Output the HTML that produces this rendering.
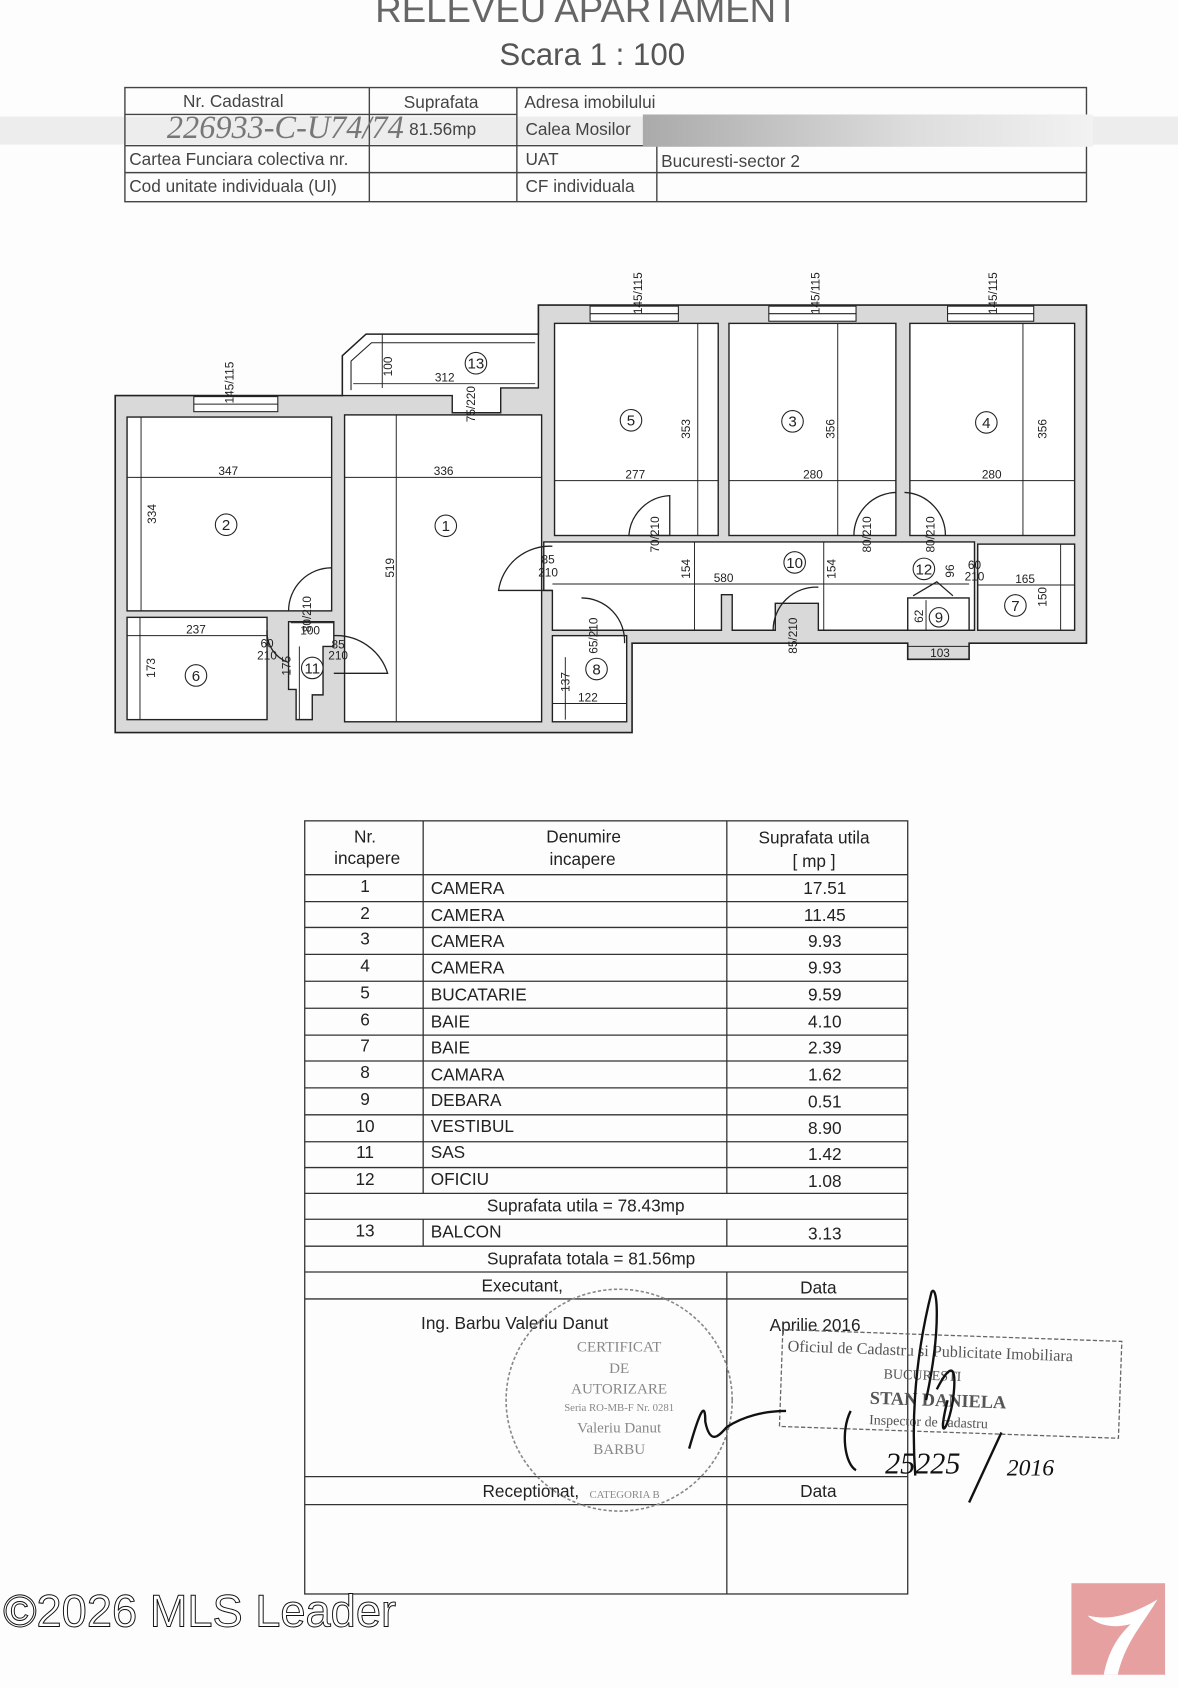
<!DOCTYPE html>
<html><head><meta charset="utf-8"><style>
html,body{margin:0;padding:0;background:#fff}
svg{display:block}
text{font-family:"Liberation Sans",sans-serif}
.s{font-family:"Liberation Serif",serif}
</style></head><body>
<svg width="1178" height="1688" viewBox="0 0 1094 1567" xmlns="http://www.w3.org/2000/svg" fill="#222">
<rect width="1094" height="1567" fill="#fdfdfd"/>
<!-- title -->
<text x="545" y="20" font-size="34" text-anchor="middle" fill="#666">RELEVEU APARTAMENT</text>
<text x="550" y="60" font-size="29" text-anchor="middle" fill="#555">Scara 1 : 100</text>
<!-- header table -->
<rect x="0" y="108" width="1094" height="26" fill="#e6e6e6" opacity="0.7"/>
<g stroke="#444" stroke-width="1.3" fill="none">
<rect x="116" y="81" width="893" height="106"/>
<line x1="116" y1="106" x2="480" y2="106"/><line x1="116" y1="135" x2="1009" y2="135"/><line x1="116" y1="160" x2="1009" y2="160"/>
<line x1="343" y1="81" x2="343" y2="187"/><line x1="480" y1="81" x2="480" y2="187"/><line x1="610" y1="135" x2="610" y2="187"/>
</g>
<defs><linearGradient id="g1" x1="0" x2="1"><stop offset="0" stop-color="#aaa"/><stop offset="0.6" stop-color="#ddd"/><stop offset="1" stop-color="#f2f2f2"/></linearGradient></defs>
<rect x="597" y="106" width="418" height="30" fill="url(#g1)"/>
<g font-size="16" fill="#444">
<text x="170" y="99">Nr. Cadastral</text><text x="375" y="100">Suprafata</text><text x="487" y="100">Adresa imobilului</text>
<text x="380" y="125">81.56mp</text><text x="488" y="125">Calea Mosilor</text>
<text x="120" y="153">Cartea Funciara colectiva nr.</text><text x="488" y="153">UAT</text><text x="614" y="155">Bucuresti-sector 2</text>
<text x="120" y="178">Cod unitate individuala (UI)</text><text x="488" y="178">CF individuala</text>
</g>
<text x="155" y="128" font-size="30" fill="#777" font-style="italic" class="s">226933-C-U74/74</text>

<!-- floor plan -->
<g>
<path d="M107,367 H318 V330 L340,310 H500 V283 H1009 V597 H900 V612 H843 V597 H587 V680 H107 Z" fill="#d9d9d9" stroke="#222" stroke-width="1.5"/>
<path d="M318,367 V330 L340,310 H500 V360 H465 V383 H420 V367 Z" fill="#fff" stroke="#222" stroke-width="1.3"/>
<path d="M326,362 V335 L345,318 H497" fill="none" stroke="#222"/>
<g fill="#fff" stroke="#222" stroke-width="1.3">
<rect x="118" y="387" width="190" height="180"/>
<rect x="118" y="573" width="130" height="95"/>
<path d="M268,577 H310 V600 H300 V645 H290 V668 H275 V640 H268 Z"/>
<rect x="320" y="385" width="183" height="285"/>
<rect x="515" y="300" width="152" height="197"/>
<rect x="677" y="300" width="155" height="197"/>
<rect x="845" y="300" width="153" height="197"/>
<path d="M505,503 H905 V585 H760 V560 H720 V585 H680 V552 H670 V585 H513 V548 H505 Z"/>
<rect x="908" y="505" width="90" height="80"/>
<rect x="843" y="555" width="57" height="30"/>
<rect x="513" y="590" width="69" height="80"/>
</g>
<g fill="#fff" stroke="#222" stroke-width="1">
<rect x="180" y="368" width="78" height="14"/><line x1="180" y1="375" x2="258" y2="375"/>
<rect x="548" y="284" width="82" height="14"/><line x1="548" y1="291" x2="630" y2="291"/>
<rect x="714" y="284" width="81" height="14"/><line x1="714" y1="291" x2="795" y2="291"/>
<rect x="880" y="284" width="80" height="14"/><line x1="880" y1="291" x2="960" y2="291"/>
</g>
<g fill="none" stroke="#222" stroke-width="1.2">
<path d="M513,507 A48,48 0 0 0 463,548 H513"/>
<path d="M622,460 A40,40 0 0 0 584,497 H622 Z"/>
<path d="M832,457 A40,40 0 0 0 793,497"/><path d="M840,457 A40,40 0 0 1 878,497"/>
<path d="M308,527 A40,40 0 0 0 268,567"/>
<path d="M310,590 A50,50 0 0 1 360,625 H310"/>
<path d="M248,585 A30,30 0 0 0 268,615"/>
<path d="M540,555 A40,40 0 0 1 580,597"/>
<path d="M760,545 A40,40 0 0 0 718,585"/>
<path d="M848,553 L870,540 L885,553"/>
</g>
<g stroke="#222" stroke-width="0.9">
<line x1="118" y1="443" x2="308" y2="443"/><line x1="320" y1="443" x2="503" y2="443"/>
<line x1="515" y1="446" x2="667" y2="446"/><line x1="677" y1="446" x2="832" y2="446"/><line x1="845" y1="446" x2="998" y2="446"/>
<line x1="131" y1="387" x2="131" y2="567"/><line x1="368" y1="385" x2="368" y2="670"/>
<line x1="648" y1="300" x2="648" y2="497"/><line x1="778" y1="300" x2="778" y2="497"/><line x1="950" y1="300" x2="950" y2="497"/>
<line x1="355" y1="310" x2="355" y2="360"/><line x1="328" y1="356" x2="497" y2="356"/>
<line x1="513" y1="542" x2="900" y2="542"/><line x1="645" y1="503" x2="645" y2="585"/><line x1="765" y1="503" x2="765" y2="585"/>
<line x1="118" y1="590" x2="248" y2="590"/><line x1="130" y1="573" x2="130" y2="668"/>
<line x1="270" y1="578" x2="310" y2="578"/><line x1="278" y1="600" x2="278" y2="668"/>
<line x1="908" y1="543" x2="998" y2="543"/><line x1="985" y1="505" x2="985" y2="585"/>
<line x1="525" y1="610" x2="525" y2="668"/><line x1="513" y1="653" x2="582" y2="653"/>
<line x1="843" y1="600" x2="900" y2="600"/><line x1="860" y1="557" x2="860" y2="585"/>
</g>
<g font-size="11">
<text x="212" y="441" text-anchor="middle">347</text><text x="412" y="441" text-anchor="middle">336</text>
<text x="590" y="444" text-anchor="middle">277</text><text x="755" y="444" text-anchor="middle">280</text><text x="921" y="444" text-anchor="middle">280</text>
<text x="413" y="354" text-anchor="middle">312</text><text x="672" y="540" text-anchor="middle">580</text>
<text x="182" y="588" text-anchor="middle">237</text><text x="288" y="589" text-anchor="middle">100</text>
<text x="952" y="541" text-anchor="middle">165</text><text x="546" y="651" text-anchor="middle">122</text><text x="873" y="610" text-anchor="middle">103</text>
<text transform="translate(145,477) rotate(-90)" text-anchor="middle">334</text>
<text transform="translate(366,527) rotate(-90)" text-anchor="middle">519</text>
<text transform="translate(641,398) rotate(-90)" text-anchor="middle">353</text>
<text transform="translate(775,398) rotate(-90)" text-anchor="middle">356</text>
<text transform="translate(972,398) rotate(-90)" text-anchor="middle">356</text>
<text transform="translate(364,340) rotate(-90)" text-anchor="middle">100</text>
<text transform="translate(641,528) rotate(-90)" text-anchor="middle">154</text>
<text transform="translate(776,528) rotate(-90)" text-anchor="middle">154</text>
<text transform="translate(144,620) rotate(-90)" text-anchor="middle">173</text>
<text transform="translate(270,618) rotate(-90)" text-anchor="middle">175</text>
<text transform="translate(972,554) rotate(-90)" text-anchor="middle">150</text>
<text transform="translate(529,633) rotate(-90)" text-anchor="middle">137</text>
<text transform="translate(857,572) rotate(-90)" text-anchor="middle">62</text>
<text transform="translate(886,530) rotate(-90)" text-anchor="middle">96</text>
<text transform="translate(217,355) rotate(-90)" text-anchor="middle">145/115</text>
<text transform="translate(596,272) rotate(-90)" text-anchor="middle">145/115</text>
<text transform="translate(761,272) rotate(-90)" text-anchor="middle">145/115</text>
<text transform="translate(926,272) rotate(-90)" text-anchor="middle">145/115</text>
<text transform="translate(441,375) rotate(-90)" text-anchor="middle">75/220</text>
<text transform="translate(612,496) rotate(-90)" text-anchor="middle">70/210</text>
<text transform="translate(809,496) rotate(-90)" text-anchor="middle">80/210</text>
<text transform="translate(868,496) rotate(-90)" text-anchor="middle">80/210</text>
<text transform="translate(289,570) rotate(-90)" text-anchor="middle">80/210</text>
<text transform="translate(555,590) rotate(-90)" text-anchor="middle">65/210</text>
<text transform="translate(740,590) rotate(-90)" text-anchor="middle">85/210</text>
<text x="509" y="523" text-anchor="middle">85</text><text x="509" y="535" text-anchor="middle">210</text>
<text x="905" y="528" text-anchor="middle">60</text><text x="905" y="539" text-anchor="middle">210</text>
<text x="248" y="601" text-anchor="middle">60</text><text x="248" y="612" text-anchor="middle">210</text>
<text x="314" y="602" text-anchor="middle">85</text><text x="314" y="612" text-anchor="middle">210</text>
</g>
<g fill="#fff" stroke="#222" stroke-width="1">
<circle cx="210" cy="487" r="10"/><circle cx="414" cy="488" r="10"/><circle cx="586" cy="390" r="10"/><circle cx="736" cy="391" r="10"/><circle cx="916" cy="392" r="10"/>
<circle cx="738" cy="522" r="10"/><circle cx="858" cy="528" r="10"/><circle cx="943" cy="562" r="10"/><circle cx="872" cy="573" r="9"/>
<circle cx="182" cy="627" r="10"/><circle cx="290" cy="620" r="10"/><circle cx="554" cy="621" r="10"/><circle cx="442" cy="337" r="10"/>
</g>
<g font-size="14" text-anchor="middle">
<text x="210" y="492">2</text><text x="414" y="493">1</text><text x="586" y="395">5</text><text x="736" y="396">3</text><text x="916" y="397">4</text>
<text x="738" y="527">10</text><text x="858" y="533">12</text><text x="943" y="567">7</text><text x="872" y="578">9</text>
<text x="182" y="632">6</text><text x="290" y="625">11</text><text x="554" y="626">8</text><text x="442" y="342">13</text>
</g>
</g>

<!-- main table -->
<g stroke="#333" stroke-width="1.2" fill="none">
<rect x="283" y="762" width="560" height="718"/>
<line x1="393" y1="762" x2="393" y2="1108"/><line x1="675" y1="762" x2="675" y2="1108"/>
<line x1="393" y1="1132" x2="393" y2="1157"/><line x1="675" y1="1132" x2="675" y2="1157"/>
<line x1="675" y1="1181" x2="675" y2="1480"/>
<line x1="283" y1="812" x2="843" y2="812"/><line x1="283" y1="837" x2="843" y2="837"/><line x1="283" y1="861" x2="843" y2="861"/>
<line x1="283" y1="886" x2="843" y2="886"/><line x1="283" y1="911" x2="843" y2="911"/><line x1="283" y1="936" x2="843" y2="936"/>
<line x1="283" y1="961" x2="843" y2="961"/><line x1="283" y1="985" x2="843" y2="985"/><line x1="283" y1="1010" x2="843" y2="1010"/>
<line x1="283" y1="1035" x2="843" y2="1035"/><line x1="283" y1="1060" x2="843" y2="1060"/><line x1="283" y1="1084" x2="843" y2="1084"/>
<line x1="283" y1="1108" x2="843" y2="1108"/><line x1="283" y1="1132" x2="843" y2="1132"/><line x1="283" y1="1157" x2="843" y2="1157"/>
<line x1="283" y1="1181" x2="843" y2="1181"/><line x1="283" y1="1206" x2="843" y2="1206"/><line x1="283" y1="1371" x2="843" y2="1371"/>
<line x1="283" y1="1397" x2="843" y2="1397"/>
</g>
<g font-size="16" fill="#222">
<text x="339" y="782" text-anchor="middle">Nr.</text><text x="341" y="802" text-anchor="middle">incapere</text>
<text x="542" y="782" text-anchor="middle">Denumire</text><text x="541" y="803" text-anchor="middle">incapere</text>
<text x="756" y="783" text-anchor="middle">Suprafata utila</text><text x="756" y="805" text-anchor="middle">[ mp ]</text>
<g text-anchor="middle">
<text x="339" y="828">1</text><text x="339" y="853">2</text><text x="339" y="877">3</text><text x="339" y="902">4</text><text x="339" y="927">5</text><text x="339" y="952">6</text>
<text x="339" y="976">7</text><text x="339" y="1001">8</text><text x="339" y="1026">9</text><text x="339" y="1051">10</text><text x="339" y="1075">11</text><text x="339" y="1100">12</text><text x="339" y="1148">13</text>
<text x="766" y="830">17.51</text><text x="766" y="855">11.45</text><text x="766" y="879">9.93</text><text x="766" y="904">9.93</text><text x="766" y="929">9.59</text><text x="766" y="954">4.10</text>
<text x="766" y="978">2.39</text><text x="766" y="1003">1.62</text><text x="766" y="1028">0.51</text><text x="766" y="1053">8.90</text><text x="766" y="1077">1.42</text><text x="766" y="1102">1.08</text><text x="766" y="1151">3.13</text>
<text x="544" y="1125">Suprafata utila = 78.43mp</text><text x="549" y="1174">Suprafata totala = 81.56mp</text>
<text x="485" y="1199">Executant,</text><text x="760" y="1201">Data</text>
<text x="478" y="1234">Ing. Barbu Valeriu Danut</text><text x="757" y="1236">Aprilie 2016</text>
<text x="493" y="1390">Receptionat,</text><text x="760" y="1390">Data</text>
</g>
<text x="400" y="830">CAMERA</text><text x="400" y="855">CAMERA</text><text x="400" y="879">CAMERA</text><text x="400" y="904">CAMERA</text><text x="400" y="929">BUCATARIE</text><text x="400" y="954">BAIE</text>
<text x="400" y="978">BAIE</text><text x="400" y="1003">CAMARA</text><text x="400" y="1027">DEBARA</text><text x="400" y="1051">VESTIBUL</text><text x="400" y="1075">SAS</text><text x="400" y="1100">OFICIU</text><text x="400" y="1149">BALCON</text>
</g>
<!-- stamps -->
<ellipse cx="575" cy="1300" rx="105" ry="103" fill="none" stroke="#888" stroke-width="1.5" stroke-dasharray="3,2"/>
<g font-size="14" fill="#888" text-anchor="middle">
<text x="575" y="1255" class="s">CERTIFICAT</text><text x="575" y="1275" class="s">DE</text><text x="575" y="1294" class="s">AUTORIZARE</text>
<text x="575" y="1310" font-size="10" class="s">Seria RO-MB-F Nr. 0281</text><text x="575" y="1330" class="s">Valeriu Danut</text><text x="575" y="1350" class="s">BARBU</text>
<text x="580" y="1391" font-size="10" class="s">CATEGORIA B</text>
</g>
<g transform="rotate(2 885 1295)">
<rect x="725" y="1240" width="315" height="90" fill="none" stroke="#666" stroke-width="1.2" stroke-dasharray="4,2"/>
<g fill="#555">
<text x="730" y="1260" font-size="15" class="s">Oficiul de Cadastru si Publicitate Imobiliara</text>
<text x="820" y="1282" font-size="13" class="s">BUCURESTI</text>
<text x="808" y="1306" font-size="17" font-weight="bold" class="s">STAN DANIELA</text>
<text x="808" y="1325" font-size="13" class="s">Inspector de cadastru</text>
</g>
</g>
<g fill="none" stroke="#111" stroke-width="2.2">
<path d="M850,1370 C845,1300 855,1240 865,1200 C870,1190 875,1230 860,1300"/>
<path d="M870,1290 C880,1270 890,1260 885,1300 C880,1330 870,1340 880,1300"/>
<path d="M790,1310 C780,1330 785,1360 795,1365"/>
<path d="M640,1345 C650,1310 655,1300 655,1320 C660,1345 670,1330 675,1325 C690,1315 710,1310 730,1310"/>
<path d="M930,1330 L900,1395"/>
</g>
<text x="822" y="1368" font-size="28" font-style="italic" class="s" fill="#111">25225</text>
<text x="935" y="1370" font-size="22" font-style="italic" class="s" fill="#111">2016</text>
<!-- watermark -->
<text x="3" y="1510" font-size="42" style="fill:#ffffff;stroke:#111;stroke-width:0.9">©2026 MLS Leader</text>
<rect x="995" y="1470" width="87" height="85" fill="#e6a0a0"/>
<path d="M1010,1500 C1030,1505 1050,1500 1075,1485 C1060,1510 1045,1525 1038,1555 L1025,1555 C1030,1530 1040,1518 1050,1508 C1035,1512 1020,1510 1010,1500 Z" fill="#fff"/>
</svg>
</body></html>
